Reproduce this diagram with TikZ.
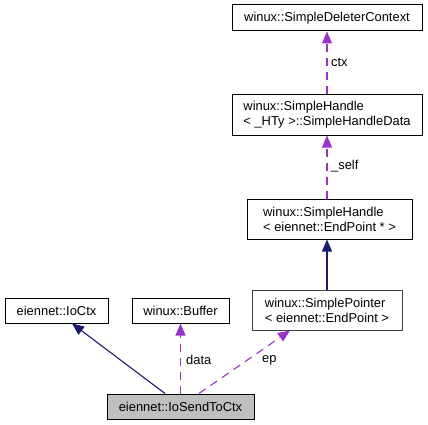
\documentclass[tikz,border=0pt]{standalone}
\usepackage{fontspec}
\setmainfont{Liberation Sans}
\usetikzlibrary{arrows.meta}
\definecolor{edgenavy}{HTML}{191970}
\definecolor{edgepurple}{HTML}{9A32CD}
\definecolor{boxgray}{HTML}{404040}
\begin{document}
\begin{tikzpicture}[x=1pt, y=-1pt,
		cls/.style={draw=black, line width=1pt, fill=white, inner sep=0pt, align=left,
			font=\fontsize{12.9}{15}\selectfont},
		inh/.style={draw=edgenavy, line width=1.1pt, -{Triangle[length=12pt,width=10pt]}},
		use/.style={draw=edgepurple, line width=1.1pt, dash pattern=on 8pt off 6pt,
			-{Triangle[length=12pt,width=10pt]}},
		lbl/.style={font=\fontsize{12.9}{15}\selectfont, inner sep=0pt}]
	\useasboundingbox (0,0) rectangle (428,425);
	\node[cls, minimum width=190pt, minimum height=26pt] (delctx) at (327,18) {winux::SimpleDeleterContext};
	\node[cls, minimum width=190pt, minimum height=40pt] (hdata) at (327,115) {winux::SimpleHandle\\< \_HTy >::SimpleHandleData};
	\node[cls, minimum width=165pt, minimum height=40pt] (handle) at (329.5,219) {winux::SimpleHandle\\< eiennet::EndPoint * >};
	\node[cls, draw=boxgray, minimum width=150pt, minimum height=40pt] (sptr) at (327,310) {winux::SimplePointer\\< eiennet::EndPoint >};
	\node[cls, minimum width=103pt, minimum height=25pt] (ioctx) at (56.5,310.5) {eiennet::IoCtx};
	\node[cls, minimum width=97pt, minimum height=25pt] (buffer) at (180.5,310.5) {winux::Buffer};
	\node[cls, fill=black!25, minimum width=147pt, minimum height=25pt] (sendctx) at (180.5,406.5) {eiennet::IoSendToCtx};
	% inheritance
	\draw[inh] ([xshift=-15.5pt]sendctx.north) -- ([xshift=15.5pt]ioctx.south);
	\draw[inh] (sptr.north) -- (sptr.north |- handle.south);
	% members
	\draw[use] (sendctx.north) -- (buffer.south);
	\draw[use] ([xshift=18.5pt]sendctx.north) -- ([xshift=-37pt]sptr.south);
	\draw[use] (handle.north -| hdata.south) -- (hdata.south);
	\draw[use] (hdata.north) -- (delctx.south);
	\node[lbl, anchor=west] (ldata) at (186,360) {data};
	\node[lbl, anchor=west] (lep) at (262,360) {ep};
	\node[lbl, anchor=west] (lself) at (331,166) {\_self};
	\node[lbl, anchor=west] (lctx) at (331,62) {ctx};
\end{tikzpicture}
\end{document}
